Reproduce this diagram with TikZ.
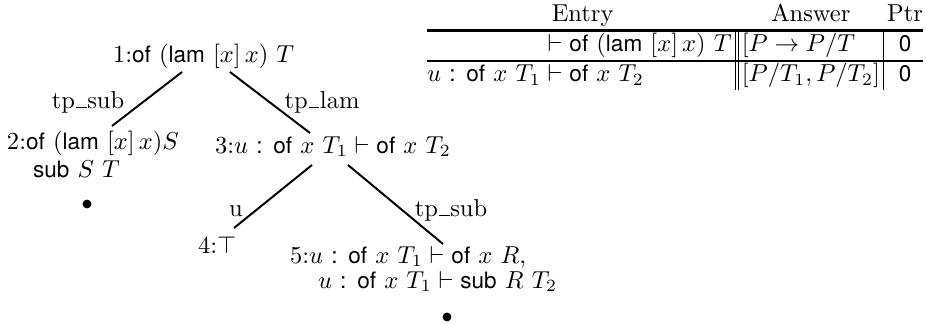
\documentclass[tikz,border=0pt]{standalone}
\usepackage{fontspec}
\setsansfont{TeX Gyre Heros}[Scale=0.92]
\usetikzlibrary{calc}
\newcommand\usc{\leavevmode\kern.06em\vbox{\hrule width .42em height .55pt}\kern.02em}
\begin{document}
\begin{tikzpicture}[x=0.408pt,y=-0.408pt,
  every node/.style={inner sep=0pt, outer sep=0pt},
  txt/.style={anchor=base west},
  edge/.style={line width=0.8pt},
  lbl/.style={anchor=base, font=\rmfamily},
  dotnode/.style={circle, fill=black, minimum size=3.6pt}]
\useasboundingbox (0,0) rectangle (926,324);
% tree nodes
\node[txt] (n1) at (113,62) {1:\textsf{of} $(\textsf{lam}\ [x]\,x)\ T$};
\node[txt] (n2) at (7,149) {2:\textsf{of} $(\textsf{lam}\ [x]\,x)S$};
\node[txt] (n2b) at (33,177) {\textsf{sub} $S\ T$};
\node[dotnode] (d2) at (87,204) {};
\node[txt] (n3) at (215,153) {3:$u$ \textsf{:} \textsf{of} $x\ T_1 \vdash \textsf{of}\ x\ T_2$};
\node[txt] (n4) at (198,253) {4:$\top$};
\node[txt] (n5) at (290,263) {5:$u$ \textsf{:} \textsf{of} $x\ T_1 \vdash \textsf{of}\ x\ R$,};
\node[txt] (n5b) at (318,288) {$u$ \textsf{:} \textsf{of} $x\ T_1 \vdash \textsf{sub}\ R\ T_2$};
\node[dotnode] (d5) at (447,317) {};
% edges
\draw[edge] ($(n1.base west)+(69,10)$) -- ($(n2.base west)+(105,-23)$);
\draw[edge] ($(n1.base west)+(117,10)$) -- ($(n3.base west)+(95,-20)$);
\draw[edge] ($(n3.base west)+(97,12)$) -- ($(n4.base west)+(36,-25)$);
\draw[edge] ($(n3.base west)+(133,12)$) -- ($(n5.base west)+(153,-19)$);
% edge labels
\node[lbl] (l12) at (88,108) {tp\usc sub};
\node[lbl] (l13) at (322,108) {tp\usc lam};
\node[lbl] (l34) at (236,216) {u};
\node[lbl] (l35) at (451,216) {tp\usc sub};
% table
\node[anchor=north east] (tab) at (923,1.5) {\setlength\tabcolsep{1.5pt}\setlength\doublerulesep{1.2pt}\renewcommand\arraystretch{0.95}%
\begin{tabular}{@{}r@{}l||l|c@{}}
\multicolumn{2}{c}{Entry} & \multicolumn{1}{c}{Answer} & \multicolumn{1}{c@{}}{Ptr}\\
\noalign{\hrule height 1.2pt}
 & ${}\vdash \textsf{of}\ (\textsf{lam}\ [x]\,x)\ T$ & $[P \rightarrow P/T$ & \textsf{0}\\
\noalign{\hrule height 0.6pt}
$u$ \textsf{:} \textsf{of} $x\ T_1$ & ${}\vdash \textsf{of}\ x\ T_2$ & $[P/T_1, P/T_2]$ & \textsf{0}
\end{tabular}};
\end{tikzpicture}
\end{document}
